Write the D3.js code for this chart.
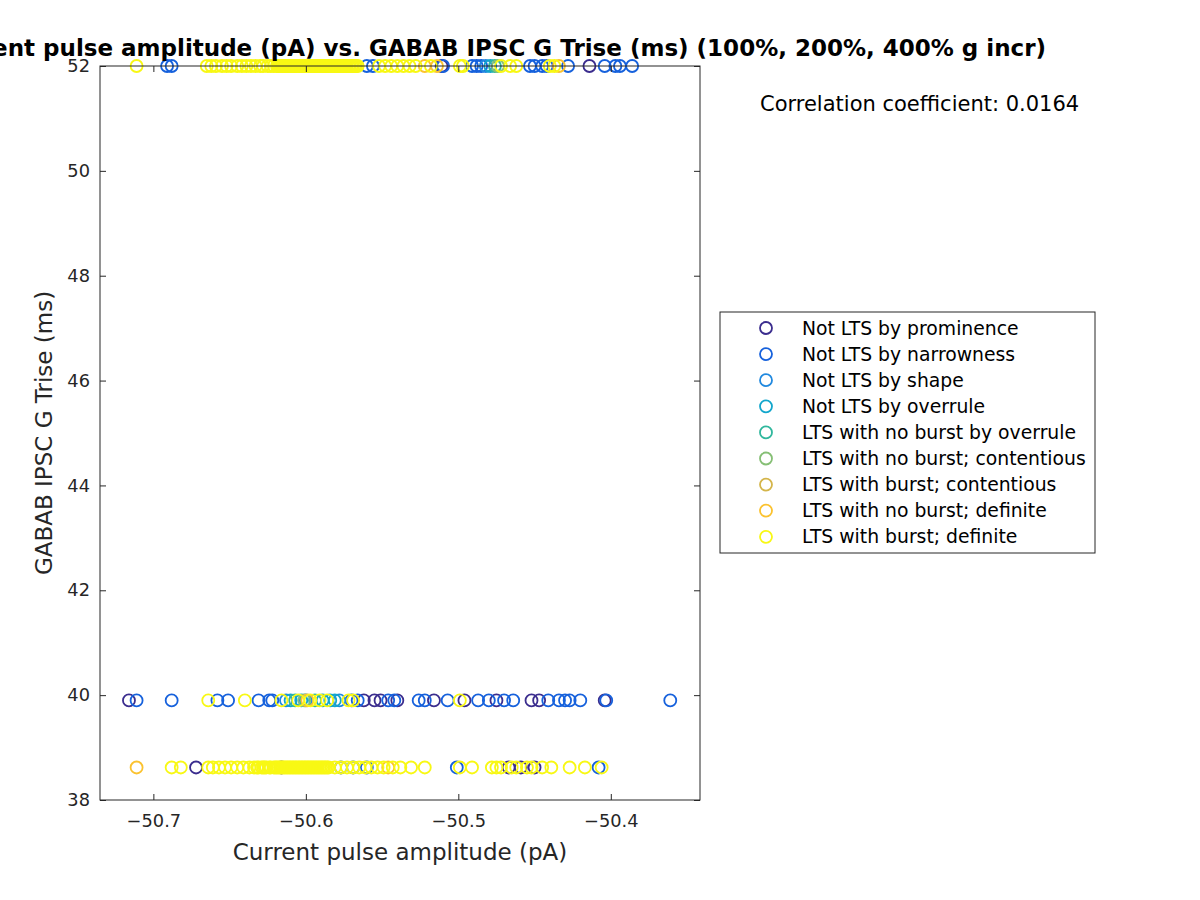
<!DOCTYPE html>
<html>
<head>
<meta charset="utf-8">
<script src="https://cdn.jsdelivr.net/npm/d3@7"></script>
<style>
  body { margin: 0; background: #fff; }
  svg { font-family: "DejaVu Sans", sans-serif; }
</style>
</head>
<body>
<div id="chart"></div>
<script>
// class labels and colours (parula-like)
const classNames = [
    "Not LTS by prominence",
    "Not LTS by narrowness",
    "Not LTS by shape",
    "Not LTS by overrule",
    "LTS with no burst by overrule",
    "LTS with no burst; contentious",
    "LTS with burst; contentious",
    "LTS with no burst; definite",
    "LTS with burst; definite"
];
const classColors = ["#3b2d8e", "#1661dc", "#2189df", "#12a6cc", "#30b79d", "#86bf75", "#d4b54a", "#fbc22f", "#f8f814"];

const triseLevels = [52, 39.9, 38.62];

// amplitudes (pA) per class, for each Trise level
const ampAt52 = [
    [-50.511, -50.414],
    [-50.691, -50.688, -50.560, -50.556, -50.510, -50.491, -50.488, -50.485, -50.453, -50.450, -50.445, -50.442, -50.428, -50.404, -50.397, -50.394, -50.386],
    [-50.482],
    [-50.479],
    [-50.476],
    [-50.474],
    [],
    [-50.522, -50.514, -50.434],
    [-50.711, -50.665, -50.662, -50.659, -50.655, -50.652, -50.649, -50.645, -50.642, -50.639, -50.636, -50.633, -50.630, -50.628, -50.625, -50.623, -50.621, -50.619,
     -50.618, -50.617, -50.616, -50.615, -50.614, -50.613, -50.612, -50.611, -50.610, -50.609, -50.608, -50.607, -50.606, -50.605, -50.604, -50.603, -50.602, -50.601,
     -50.600, -50.599, -50.598, -50.597, -50.596, -50.595, -50.594, -50.593, -50.592, -50.591, -50.590, -50.589, -50.588, -50.587, -50.586, -50.585, -50.584, -50.583,
     -50.582, -50.581, -50.580, -50.579, -50.578, -50.577, -50.576, -50.575, -50.574, -50.573, -50.572, -50.571, -50.570, -50.569, -50.568, -50.567, -50.566,
     -50.552, -50.548, -50.544, -50.540, -50.536, -50.532, -50.528, -50.518, -50.499, -50.497, -50.472, -50.466, -50.462, -50.440, -50.437]
];

const ampAt39p9 = [
    [-50.716, -50.562, -50.555, -50.551, -50.540, -50.516, -50.496, -50.475, -50.452, -50.447, -50.404],
    [-50.711, -50.688, -50.658, -50.651, -50.631, -50.624, -50.622, -50.570, -50.566, -50.546, -50.542, -50.526, -50.522, -50.507, -50.487, -50.480, -50.470, -50.464,
     -50.441, -50.434, -50.430, -50.427, -50.420, -50.403, -50.361],
    [-50.613, -50.600, -50.578],
    [-50.610, -50.603, -50.589, -50.584, -50.581],
    [-50.607, -50.594],
    [-50.601],
    [],
    [-50.599],
    [-50.664, -50.640, -50.616, -50.605, -50.597, -50.591, -50.586, -50.572, -50.569, -50.499]
];

const ampAt38p62 = [
    [-50.672, -50.616, -50.467, -50.459, -50.450],
    [-50.577, -50.569, -50.560, -50.501, -50.408],
    [],
    [],
    [],
    [],
    [],
    [-50.711, -50.546],
    [-50.688, -50.682, -50.664, -50.661, -50.657, -50.653, -50.649, -50.645, -50.641, -50.637, -50.634,
     -50.632, -50.631, -50.629, -50.628, -50.627, -50.626, -50.624, -50.623, -50.621, -50.620, -50.619, -50.618,
     -50.617, -50.616, -50.615, -50.614, -50.613, -50.612, -50.611, -50.610, -50.609, -50.608, -50.607, -50.606, -50.605, -50.604,
     -50.603, -50.602, -50.601, -50.600, -50.599, -50.598, -50.597, -50.596, -50.595, -50.594, -50.593, -50.592, -50.591, -50.590,
     -50.589, -50.588, -50.587, -50.586, -50.585,
     -50.581, -50.577, -50.573, -50.569, -50.565, -50.561, -50.557, -50.553, -50.549, -50.543, -50.538, -50.531, -50.522,
     -50.499, -50.491, -50.478, -50.475, -50.472, -50.465, -50.462, -50.455, -50.452, -50.445, -50.439, -50.427, -50.417, -50.406]
];

const xTicks = [-50.7, -50.6, -50.5, -50.4];
const yTicks = [38, 40, 42, 44, 46, 48, 50, 52];
const corrCoef = 0.0164;

var margin = {top: 66, left: 100},
    width = 600,
    height = 734;

var svg = d3.select("#chart").append("svg")
    .attr("width", 1200)
    .attr("height", 900);

var x = d3.scaleLinear().domain([-50.735, -50.3415]).range([0, width]);
var y = d3.scaleLinear().domain([38, 52]).range([height, 0]);

var g = svg.append("g")
    .attr("transform", "translate(" + margin.left + "," + margin.top + ")");

// put the points together, one class after the other
var rows = [ampAt52, ampAt39p9, ampAt38p62];
var points = [];
classNames.forEach(function(name, c) {
    rows.forEach(function(row, r) {
        row[c].forEach(function(a) {
            points.push({amp: a, trise: triseLevels[r], cls: c});
        });
    });
});

g.selectAll("circle.pt")
    .data(points)
  .enter().append("circle")
    .attr("class", "pt")
    .attr("cx", d => x(d.amp))
    .attr("cy", d => y(d.trise))
    .attr("r", 6)
    .style("fill", "none")
    .style("stroke", d => classColors[d.cls])
    .style("stroke-width", 1.8);

// axes, ticks pointing inwards
var tickFmt = d3.format(".1f");
var axisColor = "#262626";

function styleAxis(sel) {
    sel.select(".domain").remove();
    sel.selectAll("line").attr("stroke", axisColor);
    sel.selectAll("text")
        .attr("fill", axisColor)
        .style("font-size", "17.8px")
        .style("font-family", "DejaVu Sans, sans-serif");
}

g.append("g")
    .attr("transform", "translate(0," + height + ")")
    .call(d3.axisBottom(x).tickValues(xTicks).tickSize(-6).tickPadding(14)
        .tickFormat(d => tickFmt(d).replace("-", "\u2212")))
    .call(styleAxis);

g.append("g")
    .call(d3.axisTop(x).tickValues(xTicks).tickSize(-6).tickFormat(""))
    .call(styleAxis);

g.append("g")
    .call(d3.axisLeft(y).tickValues(yTicks).tickSize(-6).tickPadding(10))
    .call(styleAxis);

g.append("g")
    .attr("transform", "translate(" + width + ",0)")
    .call(d3.axisRight(y).tickValues(yTicks).tickSize(-6).tickFormat(""))
    .call(styleAxis);

// box
g.append("rect")
    .attr("width", width)
    .attr("height", height)
    .style("fill", "none")
    .style("stroke", axisColor)
    .style("stroke-width", 1);

// labels
svg.append("text")
    .attr("x", margin.left + width / 2)
    .attr("y", 860)
    .attr("text-anchor", "middle")
    .style("font-size", "23px")
    .attr("fill", axisColor)
    .text("Current pulse amplitude (pA)");

svg.append("text")
    .attr("transform", "translate(52," + (margin.top + height / 2) + ") rotate(-90)")
    .attr("text-anchor", "middle")
    .style("font-size", "23px")
    .attr("fill", axisColor)
    .text("GABAB IPSC G Trise (ms)");

svg.append("text")
    .attr("x", 1046)
    .attr("y", 56)
    .attr("text-anchor", "end")
    .style("font-size", "23px")
    .style("font-weight", "bold")
    .attr("fill", "#000")
    .text("Current pulse amplitude (pA) vs. GABAB IPSC G Trise (ms) (100%, 200%, 400% g incr)");

svg.append("text")
    .attr("x", 760)
    .attr("y", 111)
    .style("font-size", "21px")
    .attr("fill", "#000")
    .text("Correlation coefficient: " + corrCoef);

// legend
var legend = svg.append("g").attr("transform", "translate(720,312)");
legend.append("rect")
    .attr("width", 375)
    .attr("height", 241)
    .style("fill", "#fff")
    .style("stroke", axisColor)
    .style("stroke-width", 1);

var item = legend.selectAll("g.item")
    .data(classNames)
  .enter().append("g")
    .attr("class", "item")
    .attr("transform", (d, i) => "translate(0," + (16 + i * 26.1) + ")");

item.append("circle")
    .attr("cx", 46)
    .attr("r", 6)
    .style("fill", "none")
    .style("stroke", (d, i) => classColors[i])
    .style("stroke-width", 1.8);

item.append("text")
    .attr("x", 82)
    .attr("dy", "0.35em")
    .style("font-size", "18.8px")
    .attr("fill", "#000")
    .text(d => d);
</script>
</body>
</html>
